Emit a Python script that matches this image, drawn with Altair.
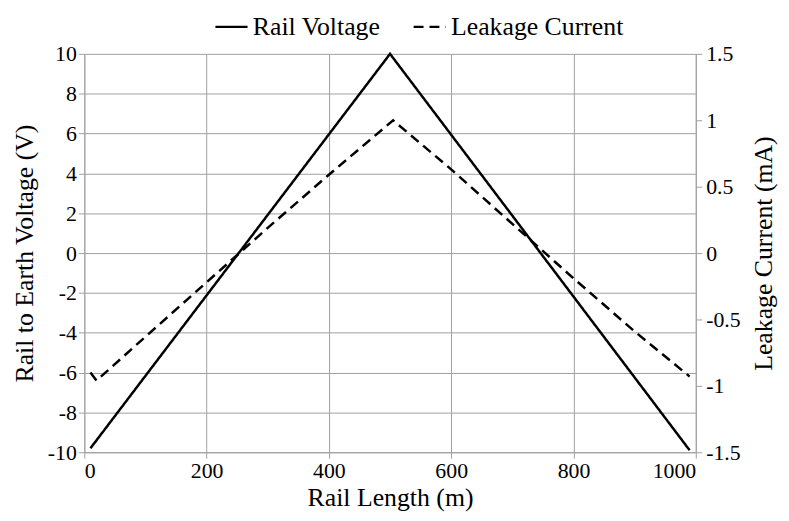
import altair as alt
import pandas as pd

# Rail voltage (V) vs rail length (m)
volt_x = [10, 500, 990]
volt_y = [-9.8, 10.0, -9.9]

# Leakage current (mA) vs rail length (m)
curr_x = [10, 20, 100, 200, 300, 400, 505, 600, 700, 800, 900, 990]
curr_y = [-0.90, -0.96, -0.63, -0.22, 0.19, 0.59, 1.0, 0.63, 0.22, -0.19, -0.59, -0.93]

series = ["Rail Voltage", "Leakage Current"]

dv = pd.DataFrame({"x": volt_x, "v": volt_y, "s": series[0]})
dc = pd.DataFrame({"x": curr_x, "c": curr_y, "s": series[1]})

FONT = "Liberation Serif"
GRID = "#a0a0a0"
LBL = 22
TTL = 26

common = dict(labelFont=FONT, titleFont=FONT, domainColor=GRID, tickColor=GRID,
              tickSize=6, labelFontSize=LBL, titleFontSize=TTL,
              titleFontWeight="normal", labelColor="black", titleColor="black")

xenc = alt.X("x:Q", scale=alt.Scale(domain=[0, 1000], nice=False),
             axis=alt.Axis(title="Rail Length (m)", values=[0, 200, 400, 600, 800, 1000],
                           format="d",
                           grid=True, gridColor=GRID, labelPadding=2, titlePadding=4,
                           **common))

dash = alt.StrokeDash("s:N", scale=alt.Scale(domain=series, range=[[1, 0], [10, 6]]),
                      legend=alt.Legend(title=None, orient="none", direction="horizontal",
                                        legendX=131, legendY=-45,
                                        labelFontSize=TTL, labelFont=FONT, labelColor="black",
                                        labelLimit=0,
                                        symbolType="stroke", symbolStrokeColor="black",
                                        symbolStrokeWidth=2.5, symbolSize=1050,
                                        columnPadding=28, labelOffset=4))

left = alt.Chart(dv).mark_line(color="black", strokeWidth=2.5).encode(
    x=xenc,
    y=alt.Y("v:Q", scale=alt.Scale(domain=[-10, 10], nice=False),
            axis=alt.Axis(title="Rail to Earth Voltage (V)", values=list(range(-10, 11, 2)),
                          labelExpr="replace(format(datum.value, 'd'), '\u2212', '-')",
                          grid=True, gridColor=GRID, labelPadding=2, titlePadding=10,
                          **common)),
    strokeDash=dash,
)

right = alt.Chart(dc).mark_line(color="black", strokeWidth=2.5).encode(
    x=xenc,
    y=alt.Y("c:Q", scale=alt.Scale(domain=[-1.5, 1.5], nice=False),
            axis=alt.Axis(title="Leakage Current (mA)", orient="right",
                          titleAngle=270, titleBaseline="top",
                          values=[-1.5, -1, -0.5, 0, 0.5, 1, 1.5],
                          labelExpr="replace(format(datum.value, '~g'), '\u2212', '-')",
                          grid=False, labelPadding=4, titlePadding=11,
                          **common)),
    strokeDash=dash,
)

chart = alt.layer(left, right).resolve_scale(y="independent").properties(
    width=617, height=402,
    autosize=alt.AutoSizeParams(type="none"),
    padding={"left": 77, "top": 44, "right": 86, "bottom": 59},
).configure(font=FONT).configure_view(stroke=None)

chart.save("out.html", embed_options={"renderer": "svg", "actions": False})
